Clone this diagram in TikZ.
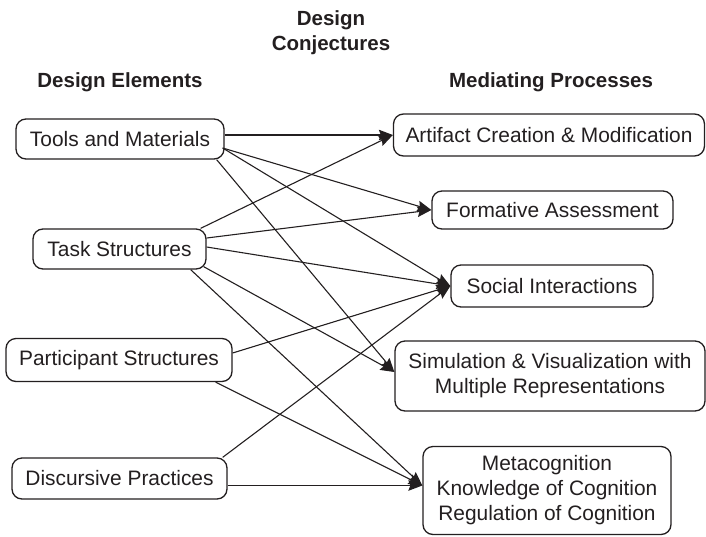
\documentclass[tikz,border=0pt]{standalone}
\usepackage{fontspec}
\setmainfont{Liberation Sans}
\usetikzlibrary{arrows.meta}
\definecolor{ink}{HTML}{231F20}
\begin{document}
\begin{tikzpicture}[x=1pt,y=-1pt,
  every node/.style={font=\fontsize{20.9}{25}\selectfont, text=ink},
  box/.style={draw=ink, line width=1.3pt, rounded corners=10pt, inner sep=0pt, align=center},
  head/.style={font=\fontsize{20.5}{25}\selectfont\bfseries, align=center, inner sep=0pt},
  conn/.style={draw=ink, line width=1.1pt, -{Stealth[length=14pt,width=10.5pt,inset=2pt]}}]
\useasboundingbox (0,0) rectangle (706,536);
% headers
\node[head] (hconj) at (331,33) {Design\\Conjectures};
\node[head] (helem) at (120,82) {Design Elements};
\node[head] (hmed) at (551,82) {Mediating Processes};
% left boxes
\node[box, minimum width=208pt, minimum height=40pt] (tools) at (120,139) {Tools and Materials};
\node[box, minimum width=173pt, minimum height=40pt] (task) at (119.5,249) {Task Structures};
\node[box, minimum width=226pt, minimum height=43pt] (part) at (119,360) {Participant Structures};
\node[box, minimum width=215pt, minimum height=41pt] (disc) at (119.5,478.5) {Discursive Practices};
% right boxes
\node[box, minimum width=311pt, minimum height=42pt] (art) at (549,135) {Artifact Creation \& Modification};
\node[box, minimum width=241pt, minimum height=38pt] (form) at (552.5,210) {Formative Assessment};
\node[box, minimum width=202pt, minimum height=42pt] (soc) at (552,286) {Social Interactions};
\node[box, minimum width=310pt, minimum height=70pt] (sim) at (550,376) {Simulation \& Visualization with\\Multiple Representations};
\node[box, minimum width=248pt, minimum height=88pt] (meta) at (547,490.5) {Metacognition\\Knowledge of Cognition\\Regulation of Cognition};
% target points
\coordinate (artw) at (art.west);
\coordinate (simw) at ([yshift=4pt]sim.west);
\coordinate (metaw) at ([yshift=5pt]meta.west);
% start points
\coordinate (t2) at ([xshift=-2pt,yshift=-9pt]tools.east);
\coordinate (t3) at ([xshift=-8pt]tools.south east);
\coordinate (k1) at ([xshift=-6pt]task.north east);
\coordinate (k2) at ([yshift=11pt]task.east);
\coordinate (k3) at ([yshift=2pt]task.east);
\coordinate (k4) at ([xshift=-3pt,yshift=3pt]task.south east);
\coordinate (k5) at ([xshift=-16pt]task.south east);
\coordinate (p1) at ([yshift=7pt]part.east);
\coordinate (p2) at ([xshift=-17pt]part.south east);
\coordinate (d1) at ([xshift=-5pt]disc.north east);
\coordinate (d2) at (disc.east |- metaw);
% connectors
\draw[conn] (tools.east |- artw) -- (artw);
\draw[conn] (t2) -- (form.west);
\draw[conn] (t2) -- (soc.west);
\draw[conn] (t3) -- (simw);
\draw[conn] (k1) -- (artw);
\draw[conn] (k2) -- (form.west);
\draw[conn] (k3) -- (soc.west);
\draw[conn] (k4) -- (simw);
\draw[conn] (k5) -- (metaw);
\draw[conn] (p1) -- (soc.west);
\draw[conn] (p2) -- (metaw);
\draw[conn] (d1) -- (soc.west);
\draw[conn] (d2) -- (metaw);
\end{tikzpicture}
\end{document}
